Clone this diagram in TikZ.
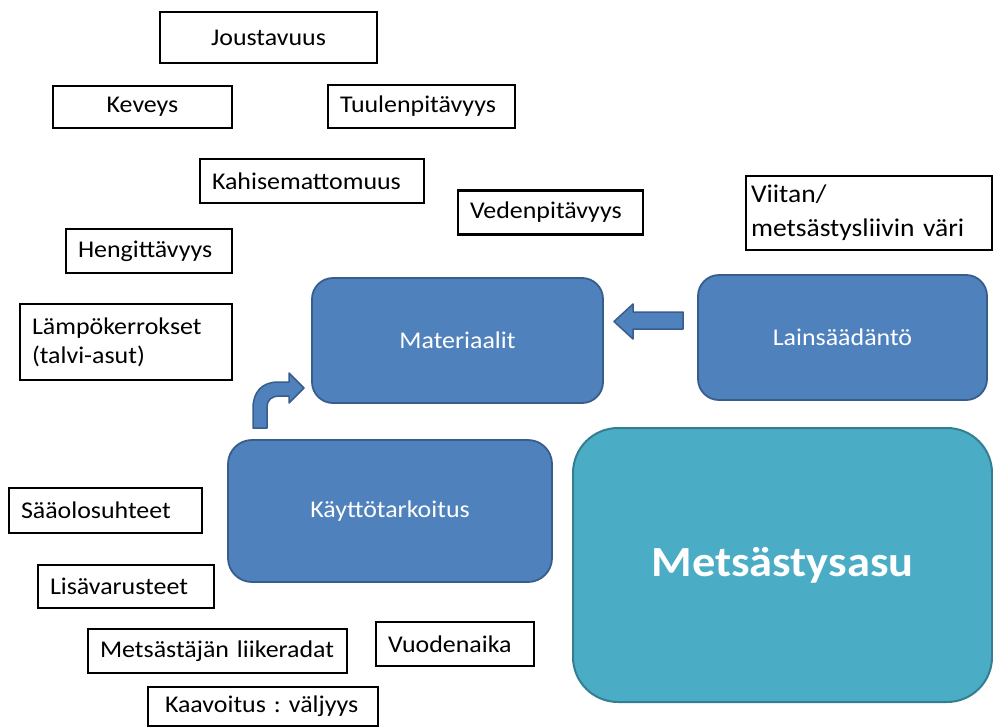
\documentclass[tikz,border=0pt]{standalone}
\usepackage{fontspec}
\setmainfont{Carlito}[FakeStretch=1.08]
\definecolor{bfill}{HTML}{4F81BD}
\definecolor{bdraw}{HTML}{385D8A}
\definecolor{tfill}{HTML}{4BACC6}
\definecolor{tdraw}{HTML}{357D91}
\frenchspacing
\begin{document}
\begin{tikzpicture}[x=1pt,y=-1pt,
  wbox/.style={draw=black, line width=2.4pt, fill=white, inner ysep=0pt,
    font=\fontsize{24}{29}\selectfont},
  lbox/.style={wbox, align=left, inner xsep=12pt},
  cbox/.style={wbox, inner xsep=0pt},
  bbox/.style={draw=bdraw, fill=bfill, line width=1.8pt, text=white,
    rounded corners=21pt, inner sep=0pt, font=\fontsize{24}{29}\selectfont},
  tbox/.style={draw=tdraw, fill=tfill, line width=2pt, text=white,
    rounded corners=45pt, inner sep=0pt, font=\fontsize{43}{50}\selectfont\bfseries},
  barrow/.style={draw=bdraw, fill=bfill, line width=1.5pt, line join=round}]
\useasboundingbox (0,0) rectangle (993,728);

% white boxes
\node[cbox, minimum width=217pt, minimum height=51pt] (jous) at (268.5,37.5) {Joustavuus};
\node[cbox, minimum width=179pt, minimum height=42pt] (kev) at (142.5,107) {Keveys};
\node[lbox, text width=163pt, minimum height=43pt] (tuul) at (421.5,106.5) {\mbox{Tuulenpitävyys}};
\node[lbox, text width=200pt, minimum height=44pt] (kah) at (312,181) {\mbox{Kahisemattomuus}};
\node[lbox, text width=161pt, minimum height=44pt] (ved) at (550.5,212.5) {\mbox{Vedenpitävyys}};
\node[lbox, text width=142pt, minimum height=44pt] (heng) at (149,251) {\mbox{Hengittävyys}};
\node[lbox, text width=188pt, minimum height=76pt] (lamp) at (126,342) {Lämpökerrokset\\(talvi-asut)};
\node[lbox, inner xsep=5pt, text width=236pt, minimum height=74pt,
  font=\fontsize{25.5}{34}\selectfont] (viit) at (869,213) {Viitan/\\\mbox{metsästysliivin väri}};
\node[lbox, text width=169pt, minimum height=45pt] (saa) at (105.5,510.5) {\mbox{Sääolosuhteet}};
\node[lbox, text width=152pt, minimum height=43pt] (lisa) at (126,586.5) {\mbox{Lisävarusteet}};
\node[lbox, text width=235pt, minimum height=44pt] (metl) at (217.5,651) {\mbox{Metsästäjän liikeradat}};
\node[lbox, text width=134pt, minimum height=44pt] (vuod) at (455,644) {\mbox{Vuodenaika}};
\node[lbox, inner xsep=17pt, text width=196pt, minimum height=39pt] (kaav) at (263,706.5) {\mbox{Kaavoitus : väljyys}};

% blue boxes
\node[bbox, minimum width=291pt, minimum height=125pt] (mat) at (457.5,340.5) {\raisebox{-6pt}{Materiaalit}};
\node[bbox, minimum width=289pt, minimum height=125pt] (lain) at (842.5,337.5) {\raisebox{-3pt}{Lainsäädäntö}};
\node[bbox, rounded corners=24pt, minimum width=324pt, minimum height=142pt] (kayt) at (390,511) {Käyttötarkoitus};
\node[tbox, minimum width=419pt, minimum height=274pt] (asu) at (782.5,565) {Metsästysasu};

% block arrows
\draw[barrow] (683,312) -- (633,312) -- (633,304) -- (614,321.5) -- (633,339) -- (633,329) -- (683,329) -- cycle;
\draw[barrow] (253,428) -- (253,408) .. controls (253,392) and (262,382) .. (278,382)
  -- (289,382) -- (289,373) -- (304,388) -- (289,403) -- (289,396) -- (279,396)
  .. controls (272,396) and (267,400) .. (267,407) -- (267,428) -- cycle;
\end{tikzpicture}
\end{document}
